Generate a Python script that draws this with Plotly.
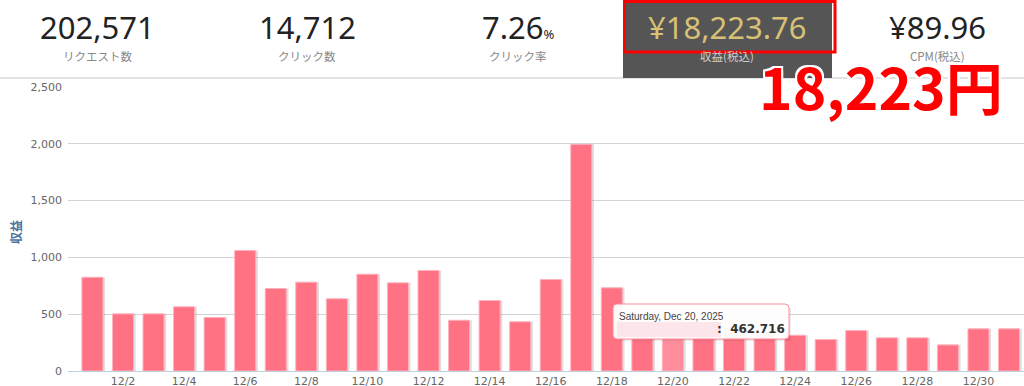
import plotly.graph_objects as go

# ---------------- data ----------------
dates = ["12/1", "12/2", "12/3", "12/4", "12/5", "12/6", "12/7", "12/8", "12/9", "12/10",
         "12/11", "12/12", "12/13", "12/14", "12/15", "12/16", "12/17", "12/18", "12/19", "12/20",
         "12/21", "12/22", "12/23", "12/24", "12/25", "12/26", "12/27", "12/28", "12/29", "12/30", "12/31"]
revenue = [825, 503, 503, 565, 471, 1061, 726, 782, 636, 852,
           776, 885, 447, 620, 433, 805, 1995, 732, 420, 462.716,
           400, 380, 340, 315, 277, 356, 292, 292, 230, 371, 371]
x_tick_labels = ["12/2", "12/4", "12/6", "12/8", "12/10", "12/12", "12/14", "12/16",
                 "12/18", "12/20", "12/22", "12/24", "12/26", "12/28", "12/30"]
y_ticks = [0, 500, 1000, 1500, 2000, 2500]

header_values = ["202,571", "14,712", "7.26", "¥18,223.76", "¥89.96"]
header_labels = ["リクエスト数", "クリック数", "クリック率", "収益(税込)", "CPM(税込)"]
hover_date = "Saturday, Dec 20, 2025"
hover_value = "462.716"
hover_index = 19
callout = "18,223円"

# ---------------- geometry helpers (pixel -> paper) ----------------
W, H = 1024, 386
PL, PR, PT, PB = 68, 1024, 87, 371


def fx(x):
    return (x - PL) / (PR - PL)


def fy(y):
    return (PB - y) / (PB - PT)


BAR_W = 0.69
bar_color = "#ff7284"
hover_color = "#ff8d9c"
colors = [hover_color if i == hover_index else bar_color for i in range(len(dates))]

fig = go.Figure()
# shadow
fig.add_trace(go.Bar(
    x=dates, y=revenue, width=BAR_W, offset=-BAR_W / 2 + 0.07,
    marker=dict(color="rgba(0,0,0,0.13)", line=dict(width=0)),
    hoverinfo="skip", showlegend=False))
# bars
fig.add_trace(go.Bar(
    x=dates, y=revenue, width=BAR_W, offset=-BAR_W / 2,
    marker=dict(color=colors, line=dict(color="#ffb3bd", width=1)),
    showlegend=False, name="収益"))

shapes = []
annotations = []

# header separator line
shapes.append(dict(type="line", xref="paper", yref="paper",
                   x0=fx(0), x1=fx(W), y0=fy(78), y1=fy(78),
                   line=dict(color="#c8c8c8", width=1)))
# dark highlighted box
shapes.append(dict(type="rect", xref="paper", yref="paper",
                   x0=fx(623), x1=fx(832), y0=fy(78), y1=fy(0),
                   fillcolor="#555555", line=dict(width=0)))
# red frame
shapes.append(dict(type="rect", xref="paper", yref="paper",
                   x0=fx(624.5), x1=fx(835), y0=fy(52), y1=fy(1.5),
                   fillcolor="rgba(0,0,0,0)", line=dict(color="#ff0000", width=3)))

col_centers = [97, 307, 518, 727, 937]
val_colors = ["#222222", "#222222", "#222222", "#d8c075", "#222222"]
lab_colors = ["#888888", "#888888", "#888888", "#cfcfcf", "#888888"]
for i, (v, lab) in enumerate(zip(header_values, header_labels)):
    txt = v
    if i == 2:
        txt = v + "<span style='font-size:13px'>%</span>"
    annotations.append(dict(xref="paper", yref="paper", x=fx(col_centers[i]), y=fy(27),
                            text=txt, showarrow=False, xanchor="center", yanchor="middle",
                            font=dict(family="Noto Sans", size=31, color=val_colors[i])))
    annotations.append(dict(xref="paper", yref="paper", x=fx(col_centers[i]), y=fy(56),
                            text=lab, showarrow=False, xanchor="center", yanchor="middle",
                            font=dict(family="Noto Sans CJK JP", size=11.5, color=lab_colors[i])))

# big red callout
annotations.append(dict(xref="paper", yref="paper", x=fx(881), y=fy(85),
                        text="<b>" + callout + "</b>", showarrow=False,
                        xanchor="center", yanchor="middle",
                        font=dict(family="Noto Sans CJK JP", size=57, color="#ff0000",
                                  shadow="2px 2px 0 #fff, -2px -2px 0 #fff, 2px -2px 0 #fff, -2px 2px 0 #fff")))

# y-axis title
annotations.append(dict(xref="paper", yref="paper", x=fx(15), y=fy(232),
                        text="<b>収益</b>", showarrow=False, textangle=-90,
                        xanchor="center", yanchor="middle",
                        font=dict(family="Noto Sans CJK JP", size=12, color="#4d759e")))

# tooltip
tx0, tx1, ty0, ty1 = 613, 789, 304, 339
r = 4
rx = r / (PR - PL)
ry = r / (PB - PT)
X0, X1, Y0, Y1 = fx(tx0), fx(tx1), fy(ty1), fy(ty0)
path = (f"M {X0+rx},{Y0} L {X1-rx},{Y0} Q {X1},{Y0} {X1},{Y0+ry} L {X1},{Y1-ry} "
        f"Q {X1},{Y1} {X1-rx},{Y1} L {X0+rx},{Y1} Q {X0},{Y1} {X0},{Y1-ry} "
        f"L {X0},{Y0+ry} Q {X0},{Y0} {X0+rx},{Y0} Z")
dx = 2 / (PR - PL)
shadow_path = (f"M {X0+rx+dx},{Y0-ry/2} L {X1+dx},{Y0-ry/2} "
               f"L {X1+dx},{Y1-ry} L {X0+dx},{Y1-ry} Z")
shapes.append(dict(type="path", xref="paper", yref="paper", path=shadow_path,
                   fillcolor="rgba(0,0,0,0.08)", line=dict(width=0), layer="above"))
shapes.append(dict(type="path", xref="paper", yref="paper", path=path,
                   fillcolor="rgba(255,255,255,0.95)", line=dict(color="#ff8a99", width=1),
                   layer="above"))
# masked series name
shapes.append(dict(type="rect", xref="paper", yref="paper",
                   x0=fx(617), x1=fx(721), y0=fy(337), y1=fy(322),
                   fillcolor="#fde6ea", line=dict(width=0), layer="above"))
annotations.append(dict(xref="paper", yref="paper", x=fx(617), y=fy(316),
                        text=hover_date, showarrow=False, xanchor="left", yanchor="middle",
                        font=dict(family="Liberation Sans", size=10, color="#444444")))
annotations.append(dict(xref="paper", yref="paper", x=fx(787), y=fy(329),
                        text="<b>:&nbsp;&nbsp;" + hover_value + "</b>", showarrow=False,
                        xanchor="right", yanchor="middle",
                        font=dict(family="DejaVu Sans", size=12, color="#333333")))

fig.update_layout(
    width=W, height=H,
    margin=dict(l=PL, r=W - PR, t=PT, b=H - PB, pad=0),
    paper_bgcolor="white", plot_bgcolor="white",
    barmode="overlay",
    shapes=shapes, annotations=annotations,
    showlegend=False,
    xaxis=dict(type="category", range=[-0.8, 30.49], tickmode="array",
               tickvals=x_tick_labels, ticktext=x_tick_labels,
               showgrid=False, showline=True, linecolor="#c0d0e0", linewidth=1,
               ticks="", automargin=False, zeroline=False, fixedrange=True,
               tickfont=dict(family="DejaVu Sans", size=11, color="#666666")),
    yaxis=dict(range=[0, 2500], tickmode="array", tickvals=y_ticks,
               tickformat=",", showgrid=True, gridcolor="#d4d4d4", gridwidth=1,
               zeroline=False, showline=False, ticks="", ticklabelstandoff=5,
               automargin=False, fixedrange=True,
               tickfont=dict(family="DejaVu Sans", size=11, color="#666666")),
)

fig.write_html("out.html", config={"displayModeBar": False},
               post_script="document.body.style.margin='0px';")
